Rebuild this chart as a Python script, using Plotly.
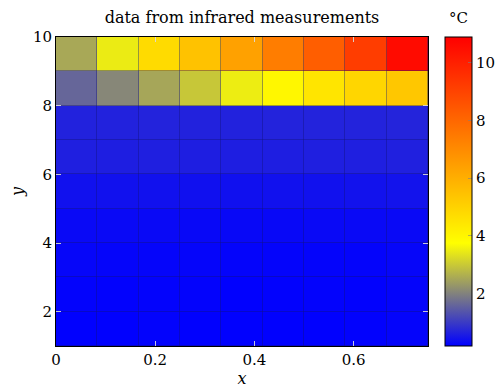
import plotly.graph_objects as go

# cell edges
x_edges = [0.0, 0.0833, 0.1667, 0.25, 0.3333, 0.4167, 0.5, 0.5833, 0.6667, 0.75]
y_edges = [1, 2, 3, 4, 5, 6, 7, 8, 9, 10]

# temperatures (°C), rows from y=1 (bottom) to y=10 (top)
row_1 = [0.20, 0.20, 0.22, 0.20, 0.20, 0.20, 0.20, 0.21, 0.23]
row_2 = [0.22, 0.21, 0.22, 0.22, 0.20, 0.21, 0.22, 0.21, 0.23]
row_3 = [0.26, 0.25, 0.25, 0.25, 0.23, 0.23, 0.23, 0.24, 0.26]
row_4 = [0.30, 0.30, 0.30, 0.29, 0.29, 0.29, 0.30, 0.30, 0.31]
row_5 = [0.42, 0.42, 0.42, 0.41, 0.41, 0.42, 0.42, 0.43, 0.44]
row_6 = [0.62, 0.60, 0.61, 0.60, 0.60, 0.60, 0.61, 0.62, 0.63]
row_7 = [0.66, 0.66, 0.67, 0.66, 0.66, 0.67, 0.67, 0.67, 0.68]
row_8 = [1.61, 2.07, 2.50, 2.97, 3.50, 3.97, 4.47, 4.90, 5.33]
row_9 = [2.54, 3.47, 4.75, 5.47, 6.40, 7.40, 8.26, 9.19, 10.60]

z = [row_1, row_2, row_3, row_4, row_5, row_6, row_7, row_8, row_9]

cb_ticks = [2, 4, 6, 8, 10]
x_ticks = [0, 0.2, 0.4, 0.6]
y_ticks = [2, 4, 6, 8, 10]

FONT = "DejaVu Serif"

fig = go.Figure(go.Heatmap(
    x=x_edges, y=y_edges, z=z,
    zmin=0.18, zmax=10.9,
    xgap=0.4, ygap=0.4,
    colorscale=[[0, "rgb(0,0,255)"], [1/3, "rgb(255,255,0)"], [1, "rgb(255,0,0)"]],
    colorbar=dict(
        x=1.0457, xanchor="left", xpad=0,
        y=0.5, yanchor="middle", len=1.0, lenmode="fraction",
        thickness=27, thicknessmode="pixels",
        outlinewidth=1, outlinecolor="black",
        tickvals=cb_ticks, ticks="inside", ticklen=4, tickcolor="rgba(128,128,128,0.6)",
        tickfont=dict(family=FONT, size=15, color="black"),
        ypad=0,
    ),
))

# the page body adds an 8px margin on the left and top, so the figure is sized to fit
fig.update_layout(
    width=495, height=384,
    margin=dict(l=48, r=75, t=29, b=46, autoexpand=False),
    paper_bgcolor="white", plot_bgcolor="rgb(20,20,120)",
    font=dict(family=FONT, size=15, color="black"),
    title=dict(text="data from infrared measurements", x=0.5, xref="paper",
               y=1, yref="paper", yanchor="bottom", pad=dict(b=14),
               font=dict(family=FONT, size=16, color="black")),
    annotations=[dict(text="°C", xref="paper", yref="paper", x=1.082, y=1.0,
                      yanchor="bottom", xanchor="center", yshift=8, showarrow=False,
                      font=dict(family=FONT, size=15, color="black"))],
)

fig.update_xaxes(range=[0, 0.75], tickvals=x_ticks, ticktext=["0", "0.2", "0.4", "0.6"],
                 ticks="inside", ticklen=5, tickcolor="rgba(220,220,220,0.9)",
                 showline=True, linecolor="black", linewidth=1, mirror="allticks",
                 showgrid=False, zeroline=False, automargin=False,
                 title=dict(text="<i>x</i>", standoff=2, font=dict(family=FONT, size=16)))
fig.update_yaxes(range=[1, 10], tickvals=y_ticks,
                 ticks="inside", ticklen=5, tickcolor="rgba(220,220,220,0.9)",
                 showline=True, linecolor="black", linewidth=1, mirror="allticks",
                 showgrid=False, zeroline=False, automargin=False,
                 title=dict(text="<i>y</i>", standoff=16, font=dict(family=FONT, size=16)))

fig.write_html("out.html")
